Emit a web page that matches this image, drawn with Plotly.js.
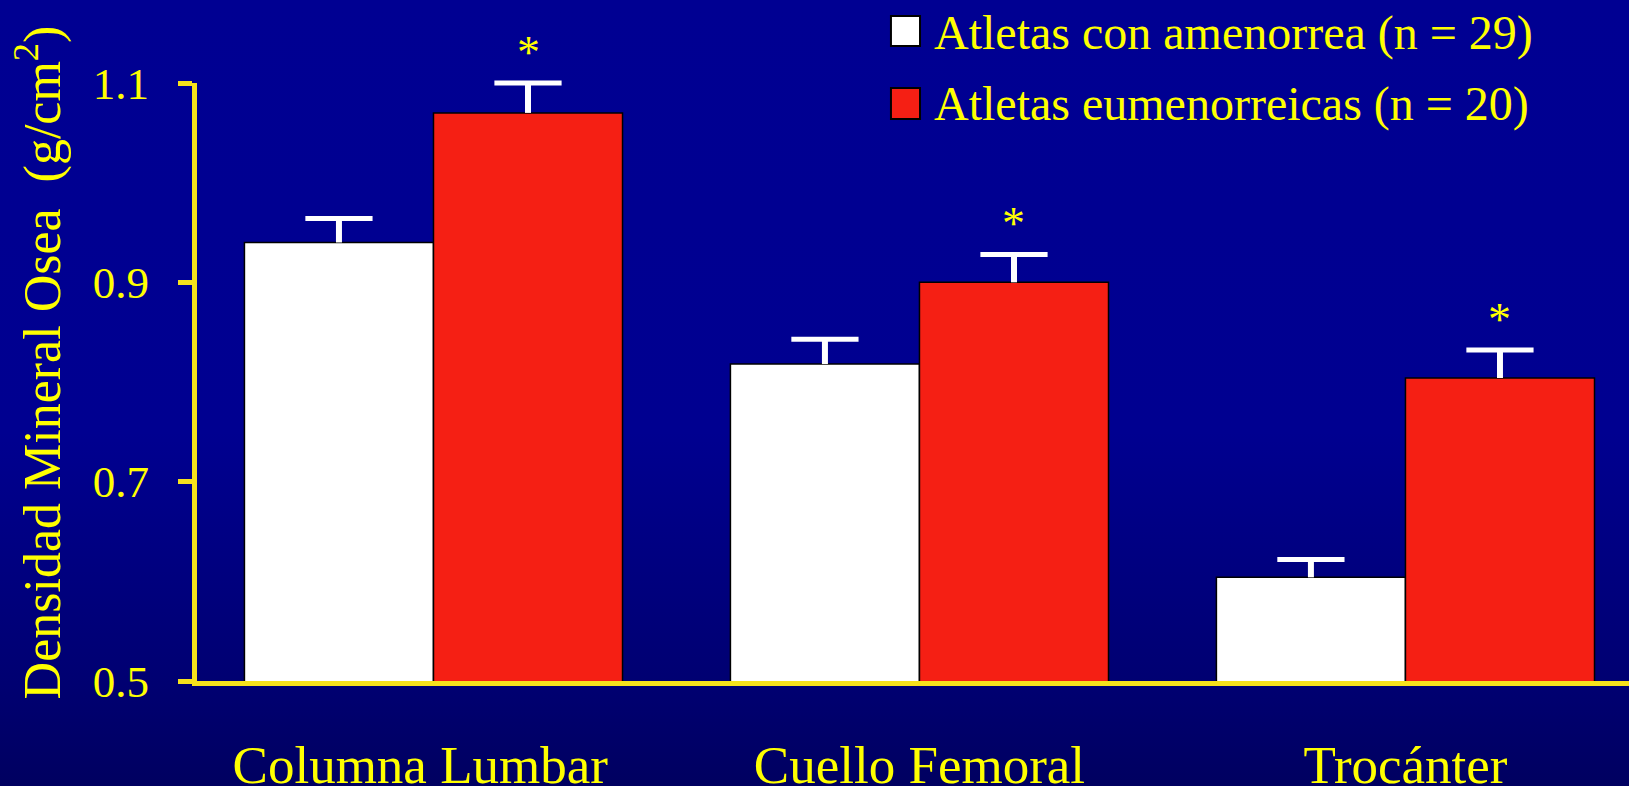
<!DOCTYPE html>
<html><head><meta charset="utf-8">
<script src="https://cdn.plot.ly/plotly-3.0.1.min.js"></script>
<style>
html,body{margin:0;padding:0;background:#000090;}
#chart{width:1629px;height:786px;background:linear-gradient(to bottom,#000092 0%,#000090 55%,#000070 88%,#000060 100%);}
</style></head><body><div id="chart"></div>
<script>
const categories = ["Columna Lumbar", "Cuello Femoral", "Trocánter"];
const seriesNames = ["Atletas con amenorrea (n = 29)", "Atletas eumenorreicas (n = 20)"];
const amenorrea = [0.94, 0.818, 0.604];
const amenorreaSE = [0.024, 0.025, 0.018];
const eumenorreicas = [1.07, 0.90, 0.804];
const eumenorreicasSE = [0.03, 0.028, 0.028];
const significance = ["*", "*", "*"];
const yTickVals = [0.5, 0.7, 0.9, 1.1];
const yTickText = ["0.5", "0.7", "0.9", "1.1"];

const YEL = '#FFFF00';
const AXIS = '#F6E21C';
const FONT = '"Liberation Serif", "Times New Roman", serif';
const BARGAP = 0.222;
const barOffset = (1 - BARGAP) / 4;
const idx = categories.map((c, i) => i);
// the first label sits slightly left of its group in the original slide
const labelPad = ['&nbsp;&nbsp;', '', ''];
const tickLabels = categories.map((c, i) => c + labelPad[i]);

function capTrace(vals, se, sign) {
  return {
    type:'scatter', mode:'markers', x: idx.map(i => i + sign * barOffset),
    y: vals.map((v, i) => v + se[i]),
    marker:{symbol:'line-ew', size:48, color:'#FFFFFF', line:{color:'#FFFFFF', width:5}},
    error_y:{type:'data', symmetric:false, array:se.map(() => 0), arrayminus:se, color:'#FFFFFF', thickness:6, width:0},
    cliponaxis:false, showlegend:false, hoverinfo:'skip'
  };
}

const traces = [
  {type:'bar', name:seriesNames[0], x:idx, y:amenorrea,
   marker:{color:'#FFFFFF', line:{color:'#000000', width:1.5}},
   cliponaxis:false, showlegend:false, hoverinfo:'skip'},
  {type:'bar', name:seriesNames[1], x:idx, y:eumenorreicas,
   marker:{color:'#F51F14', line:{color:'#000000', width:1.5}},
   cliponaxis:false, showlegend:false, hoverinfo:'skip'},
  capTrace(amenorrea, amenorreaSE, -1),
  capTrace(eumenorreicas, eumenorreicasSE, 1)
];

const annotations = significance.map((s, i) => ({
  x: i + barOffset, y: eumenorreicas[i] + eumenorreicasSE[i], xref:'x', yref:'y',
  text: s, showarrow:false, yanchor:'middle', yshift:31,
  font:{family:FONT, size:46, color:YEL}
}));
annotations.push(
  {x:0.5133, y:1.0836, xref:'paper', yref:'paper', xanchor:'left', yanchor:'middle', showarrow:false,
   text:seriesNames[0], font:{family:FONT, size:48, color:YEL}},
  {x:0.5133, y:0.9649, xref:'paper', yref:'paper', xanchor:'left', yanchor:'middle', showarrow:false,
   text:seriesNames[1], font:{family:FONT, size:48, color:YEL}}
);

const shapes = [
  {type:'rect', xref:'paper', yref:'paper', x0:0.4846, x1:0.5049, y0:1.0619, y1:1.1120,
   fillcolor:'#FFFFFF', line:{color:'#000000', width:2}},
  {type:'rect', xref:'paper', yref:'paper', x0:0.4846, x1:0.5049, y0:0.9398, y1:0.9916,
   fillcolor:'#F51F14', line:{color:'#000000', width:2}}
];

const layout = {
  width:1629, height:786,
  margin:{l:197, r:0, t:83, b:105},
  paper_bgcolor:'rgba(0,0,0,0)', plot_bgcolor:'rgba(0,0,0,0)',
  barmode:'group', bargap:BARGAP, bargroupgap:0,
  showlegend:false,
  font:{family:FONT, color:YEL},
  xaxis:{type:'linear', range:[-0.4866, 2.46], tickvals:idx, ticktext:tickLabels,
    showline:true, linecolor:AXIS, linewidth:5,
    ticks:'', showgrid:false, zeroline:false, tickfont:{family:FONT, size:53, color:YEL},
    ticklabelstandoff:33},
  yaxis:{range:[0.5, 1.1], tickvals:yTickVals, ticktext:yTickText, showline:true, linecolor:AXIS, linewidth:5,
    ticks:'outside', ticklen:14, tickwidth:5, tickcolor:AXIS, showgrid:false, zeroline:false,
    tickfont:{family:FONT, size:45, color:YEL}, ticklabelstandoff:20,
    title:{text:'&nbsp;&nbsp;&nbsp;Densidad Mineral Osea&nbsp;&nbsp;(g/cm<sup>2</sup>)', font:{family:FONT, size:52, color:YEL}, standoff:17}},
  annotations:annotations,
  shapes:shapes
};

Plotly.newPlot('chart', traces, layout, {staticPlot:true, displayModeBar:false});
</script></body></html>
